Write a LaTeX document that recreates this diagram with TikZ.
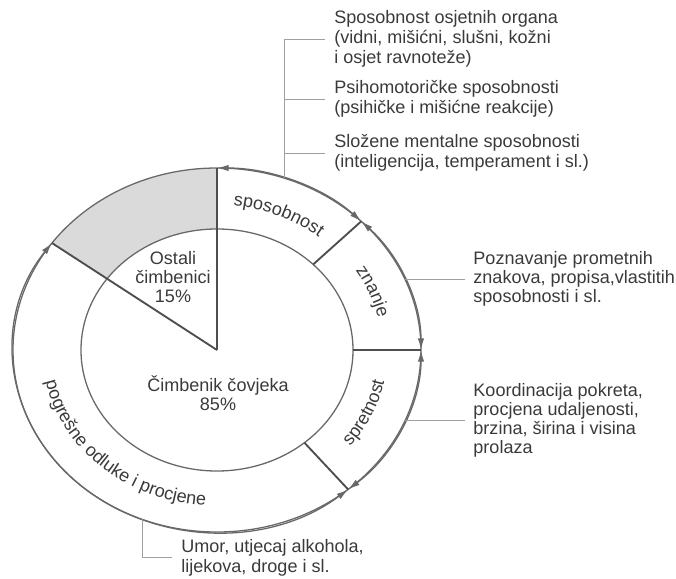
\documentclass[tikz,border=0pt]{standalone}
\usepackage{fontspec}
\setmainfont{Liberation Sans}
\usepackage{xcolor}
\usepackage{tikz}
\usetikzlibrary{arrows.meta,decorations.text}

\definecolor{linegray}{HTML}{686868}
\definecolor{divgray}{HTML}{4E4E4E}
\definecolor{leadgray}{HTML}{A0A0A0}
\definecolor{textgray}{HTML}{3A3A3A}
\definecolor{wedgegray}{HTML}{DADADA}

\newcommand{\blockfont}{\fontsize{15.4}{17.3}\selectfont}
\newcommand{\sidefont}{\fontsize{15.4}{16.2}\selectfont}

\begin{document}
\begin{tikzpicture}[x=0.03cm,y=0.03cm,
	ring/.style={linegray,line width=1.1pt},
	divider/.style={divgray,line width=1.6pt},
	lead/.style={leadgray,line width=0.7pt},
	span/.style={linegray,line width=1.1pt,{Latex[length=10pt,width=5.5pt]}-{Latex[length=10pt,width=5.5pt]}},
	toplabel/.style={text=textgray,font=\blockfont,align=left,anchor=west,inner xsep=7.7pt,inner ysep=0pt},
	sidelabel/.style={text=textgray,font=\sidefont,align=left,anchor=west,inner xsep=7pt,inner ysep=0pt},
	inlabel/.style={text=textgray,font=\sidefont,align=center},
	arclabel/.style={decorate,decoration={text along path,text align=center}}]
	\useasboundingbox (-217,-228) rectangle (459,350);
	%
	\coordinate (c) at (0,0);
	\foreach \a/\n in {90/top,144/wed,45/spo,0/zna,-50/spr} {
		\coordinate (o-\n) at (\a:204 and 182);
		\coordinate (i-\n) at (\a:136 and 121);
	}
	%
	\fill[wedgegray] (o-top) arc[start angle=90,end angle=144,x radius=204,y radius=182]
		-- (i-wed) arc[start angle=144,end angle=90,x radius=136,y radius=121] -- cycle;
	\draw[ring] (c) ellipse [x radius=204,y radius=182];
	\draw[ring] (c) ellipse [x radius=136,y radius=121];
	%
	\draw[divider] (c) -- (o-top);
	\draw[divider] (c) -- (o-wed);
	\draw[divider] (i-spo) -- (o-spo);
	\draw[divider] (i-zna) -- (o-zna);
	\draw[divider] (i-spr) -- (o-spr);
	%
	\draw[span] (o-top) arc[start angle=90,end angle=45,x radius=204,y radius=182];
	\draw[span] (o-spo) arc[start angle=45,end angle=0,x radius=204,y radius=182];
	\draw[span] (o-zna) arc[start angle=0,end angle=-50,x radius=204,y radius=182];
	\draw[span] (o-spr) arc[start angle=-50,end angle=-216,x radius=204,y radius=182];
	%
	\path[arclabel,decoration={text={|\sidefont\color{textgray}|sposobnost}}]
		(90:162 and 145) arc[start angle=90,end angle=45,x radius=162,y radius=145];
	\path[arclabel,decoration={text={|\sidefont\color{textgray}|znanje}}]
		(45:165 and 147) arc[start angle=45,end angle=0,x radius=165,y radius=147];
	\path[arclabel,decoration={text={|\sidefont\color{textgray}|spretnost}}]
		(-50:171 and 153) arc[start angle=-50,end angle=0,x radius=171,y radius=153];
	\path[arclabel,decoration={text={|\sidefont\color{textgray}|pogrešne odluke i procjene}}]
		(144:175 and 156) arc[start angle=144,end angle=310,x radius=175,y radius=156];
	%
	\node[inlabel] (ost) at (-44,73) {Ostali\\čimbenici\\15\%};
	\node[inlabel] (cov) at (1,-43) {Čimbenik čovjeka\\85\%};
	%
	\node[toplabel] (spo1) at (108,311) {Sposobnost osjetnih organa\\(vidni, mišićni, slušni, kožni\\i osjet ravnoteže)};
	\node[toplabel] (spo2) at (108,251) {Psihomotoričke sposobnosti\\(psihičke i mišićne reakcije)};
	\node[toplabel] (spo3) at (108,197) {Složene mentalne sposobnosti\\(inteligencija, temperament i sl.)};
	\node[sidelabel] (zna) at (248,71) {Poznavanje prometnih\\znakova, propisa,vlastitih\\sposobnosti i sl.};
	\node[sidelabel] (spr) at (248,-70.5) {Koordinacija pokreta,\\procjena udaljenosti,\\brzina, širina i visina\\prolaza};
	\node[toplabel] (pog) at (-45,-207.5) {Umor, utjecaj alkohola,\\lijekova, droge i sl.};
	%
	\coordinate (l-spo) at (70.83:204 and 182);
	\coordinate (l-zna) at (22.96:204 and 182);
	\coordinate (l-spr) at (-22.8:204 and 182);
	\coordinate (l-pog) at (-111.57:204 and 182);
	\draw[lead] (spo1.west) -| (l-spo);
	\draw[lead] (spo2.west) -- (spo2.west -| l-spo);
	\draw[lead] (spo3.west) -- (spo3.west -| l-spo);
	\draw[lead] (zna.west) -- (zna.west -| l-zna);
	\draw[lead] (spr.west) -- (spr.west -| l-spr);
	\draw[lead] (l-pog) |- (pog.west);
\end{tikzpicture}
\end{document}
